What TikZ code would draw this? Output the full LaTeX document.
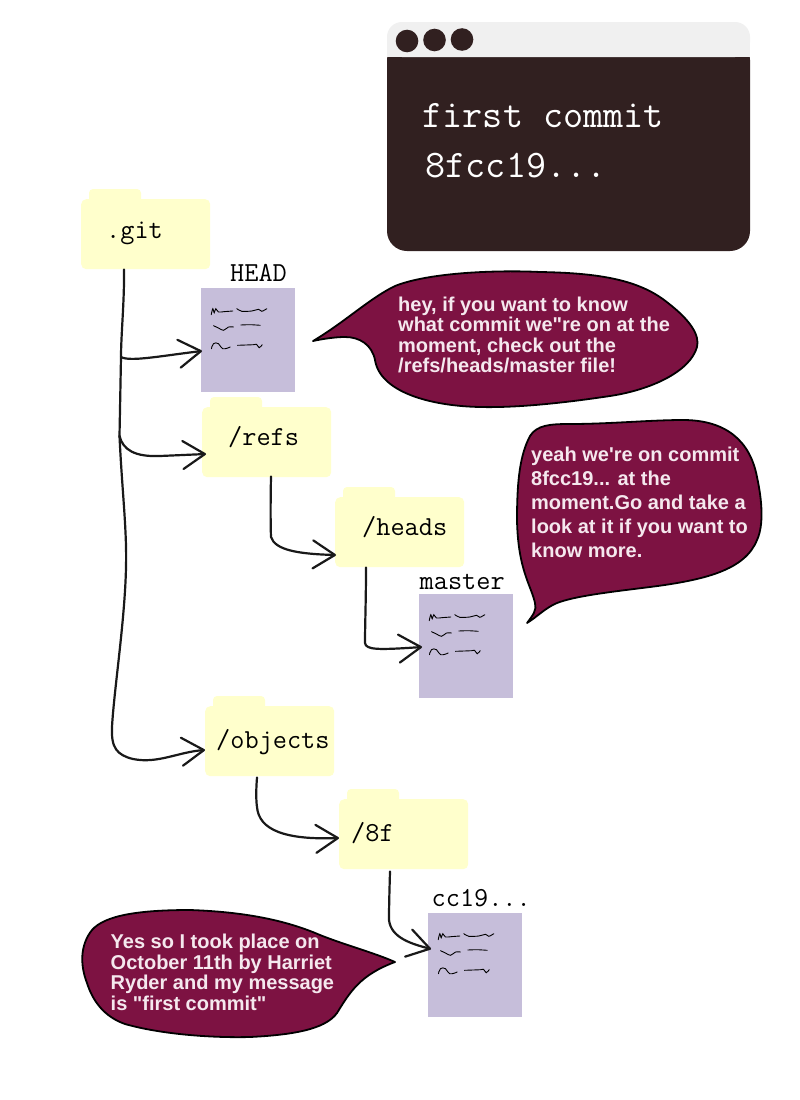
\documentclass[tikz,border=0pt]{standalone}
\usepackage{fontspec}
\usetikzlibrary{arrows.meta,calc}
\newfontfamily\bubblefont{Liberation Sans}[BoldFont={Liberation Sans Bold}]
\definecolor{foldercol}{HTML}{FFFFCC}
\definecolor{doccol}{HTML}{C6BEDA}
\definecolor{bubblecol}{HTML}{7D1242}
\definecolor{bubbletext}{HTML}{F5E8EE}
\definecolor{windark}{HTML}{312020}
\definecolor{wintitle}{HTML}{F0F0F0}
\tikzset{
  x=1pt,y=-1pt,
  folderbox/.style={fill=foldercol,rounded corners=5pt,minimum width=129pt,minimum height=70pt,inner sep=0pt,anchor=north west},
  foldertab/.style={fill=foldercol,rounded corners=4pt},
  docbox/.style={fill=doccol,minimum width=94pt,minimum height=104pt,inner sep=0pt,anchor=north west},
  monolabel/.style={inner sep=0pt,anchor=base west,font=\ttfamily\addfontfeature{FakeBold=0.4}\fontsize{27.5}{27.5}\selectfont,text=black},
  wintext/.style={inner sep=0pt,anchor=base west,font=\ttfamily\addfontfeature{FakeBold=0.4}\fontsize{39}{39}\selectfont,text=white},
  bubbleshape/.style={fill=bubblecol,draw=black,line width=1.8pt,line join=round},
  bubblelabel/.style={inner sep=0pt,anchor=north west,align=left,text=bubbletext},
  conn/.style={draw=black!90,line width=2.2pt,line cap=round,line join=round},
  arrowconn/.style={conn,-{Straight Barb[length=22pt,width=28pt,round]}},
  scribbleline/.style={draw=black,line width=.9pt,line cap=round},
  scribble/.pic={
    \draw[scribbleline] plot[smooth,tension=.5] coordinates {(10.7,26.7)(12.3,20.7)(13.7,24.7)(15.3,20.7)(18,24)(24,23.6)(32.3,23)};
    \draw[scribbleline] plot[smooth,tension=.5] coordinates {(36.3,20.7)(41.3,23.3)(51.3,23)(58,21.3)(61.3,23.3)(66.3,20.7)};
    \draw[scribbleline] plot[smooth,tension=.6] coordinates {(13,37.7)(18,40)(23,42.3)(28,39)(33,39)};
    \draw[scribbleline] plot[smooth,tension=.5] coordinates {(40.3,37)(49.7,36.7)(59.7,37.3)};
    \draw[scribbleline] plot[smooth,tension=.8] coordinates {(11,60.7)(13,55.7)(18,55.7)(22.3,60.7)(29.7,59)};
    \draw[scribbleline] plot[smooth,tension=.5] coordinates {(37,57.3)(53,56.7)(56,56.3)(58.7,59.7)(61.7,56.7)};
  }
}
\newcommand{\gfolder}[3]{%
  \fill[foldertab] (#2+8,#3-10) rectangle (#2+60,#3+6);
  \node[folderbox] (#1) at (#2,#3) {};
}
\newcommand{\gdoc}[3]{%
  \node[docbox] (#1) at (#2,#3) {};
  \pic at (#1.north west) {scribble};
}
\begin{document}
\begin{tikzpicture}
\useasboundingbox (0,0) rectangle (800,1100);
\fill[white] (0,0) rectangle (800,1100);

% window
\fill[windark,rounded corners=20pt] (387,40) rectangle (750,251);
\fill[wintitle,rounded corners=15pt] (387,57) -- (387,22) -- (750,22) -- (750,57) -- cycle;
\fill[wintitle] (387,42) rectangle (750,57);
\fill[windark] (407,41) circle (11.3);
\fill[windark] (434.5,40) circle (11.3);
\fill[windark] (462,39.5) circle (11.3);
\node[wintext] (wina) at (422.5,127) {first commit};
\node[wintext] (winb) at (425.5,177) {8fcc19...};

% folders
\gfolder{git}{81}{199}
\gfolder{refs}{202}{407}
\gfolder{heads}{335}{497}
\gfolder{objects}{205}{706}
\gfolder{eightf}{339}{799}
\node[monolabel] (gitl) at (106,238) {.git};
\node[monolabel] (refsl) at (228,445) {/refs};
\node[monolabel] (headsl) at (362,535) {/heads};
\node[monolabel] (objectsl) at (216,748) {/objects};
\node[monolabel] (eightfl) at (351,841) {/8f};

% documents
\gdoc{head}{200.5}{288}
\gdoc{master}{418.5}{594}
\gdoc{ccnine}{427.5}{913}
\node[monolabel] (headl) at (230,281) {HEAD};
\node[monolabel] (masterl) at (419.5,589) {master};
\node[monolabel] (ccninel) at (431.5,906) {cc19...};

% connectors
\coordinate (jhead) at (121,357);
\coordinate (jrefs) at (119.5,436);
\draw[conn] ($(git.south west)+(43,0)$) .. controls (124.5,300) and (121,335) .. (jhead) -- (jrefs);
\draw[arrowconn] (jrefs) .. controls (122,490) and (127,530) .. (126,567)
   .. controls (125,620) and (114,690) .. (112,727)
   .. controls (111,748) and (117,755) .. (133,759)
   .. controls (158,764) and (178,752) .. ($(objects.north west)+(0,44)$);
\draw[arrowconn] (jhead) .. controls (130,362) and (160,356) .. ($(head.north west)+(1.5,63)$);
\draw[arrowconn] (jrefs) .. controls (123,450) and (135,457) .. (160,456) -- ($(refs.north west)+(4,47)$);
\draw[arrowconn] ($(refs.south west)+(69,-1)$) .. controls (270.5,500) and (270.5,525) .. (271,537)
   .. controls (275,550) and (298,554) .. ($(heads.north west)+(1,58)$);
\draw[arrowconn] ($(heads.south west)+(31,0)$) .. controls (366,600) and (365,625) .. (365,643)
   .. controls (366,650) and (378,650) .. ($(master.north west)+(3.5,53)$);
\draw[arrowconn] ($(objects.south west)+(52,1)$) .. controls (256,790) and (256,800) .. (257,807)
   .. controls (259,830) and (285,840) .. ($(eightf.north west)+(0,39)$);
\draw[arrowconn] ($(eightf.south west)+(51,2)$) .. controls (389.5,890) and (389,905) .. (389,920)
   .. controls (391,938) and (412,944) .. ($(ccnine.north west)+(3.5,36)$);

% bubbles
\draw[bubbleshape] (313,341) .. controls (345,322) and (370,298) .. (395,286) .. controls (430,272) and (500,270) .. (540,272) .. controls (600,273) and (640,280) .. (668,303) .. controls (690,320) and (700,335) .. (697,347) .. controls (690,372) and (650,390) .. (610,396) .. controls (570,402) and (520,408) .. (480,407) .. controls (430,406) and (380,392) .. (375,360) .. controls (372,345) and (360,337) .. (345,337) .. controls (335,337) and (322,339) .. (313,341) -- cycle;
\draw[bubbleshape] (527,623) .. controls (533,615) and (537,610) .. (535,603) .. controls (531,585) and (518,570) .. (517,520) .. controls (517,480) and (520,455) .. (530,436) .. controls (537,425) and (550,424) .. (570,424) .. controls (610,424) and (650,420) .. (683,420) .. controls (725,420) and (750,440) .. (757,477) .. controls (762,500) and (764,525) .. (757,540) .. controls (745,570) and (705,580) .. (650,587) .. controls (610,592) and (575,596) .. (557,603) .. controls (545,608) and (537,617) .. (527,623) -- cycle;
\draw[bubbleshape] (395,962) .. controls (375,953) and (345,945) .. (320,935) .. controls (290,922) and (250,912) .. (190,910) .. controls (140,910) and (105,915) .. (92,930) .. controls (80,945) and (80,965) .. (87,983) .. controls (93,1002) and (105,1017) .. (125,1024) .. controls (160,1034) and (210,1038) .. (250,1037) .. controls (290,1035) and (325,1030) .. (337,1013) .. controls (350,992) and (360,975) .. (395,962) -- cycle;

\node[bubblelabel,font=\bubblefont\bfseries\fontsize{20}{20.6}\selectfont] (ba) at (398,296.5) {hey, if you want to know\\what commit we"re on at the\\moment, check out the\\/refs/heads/master file!};
\node[bubblelabel,font=\bubblefont\bfseries\fontsize{20}{24}\selectfont] (bb) at (531,446.5) {yeah we're on commit\\8fcc19... at the\\moment.Go and take a\\look at it if you want to\\know more.};
\node[bubblelabel,font=\bubblefont\bfseries\fontsize{20}{20.6}\selectfont] (bc) at (110.5,934) {Yes so I took place on\\October 11th by Harriet\\Ryder and my message\\is "first commit"};
\end{tikzpicture}
\end{document}
